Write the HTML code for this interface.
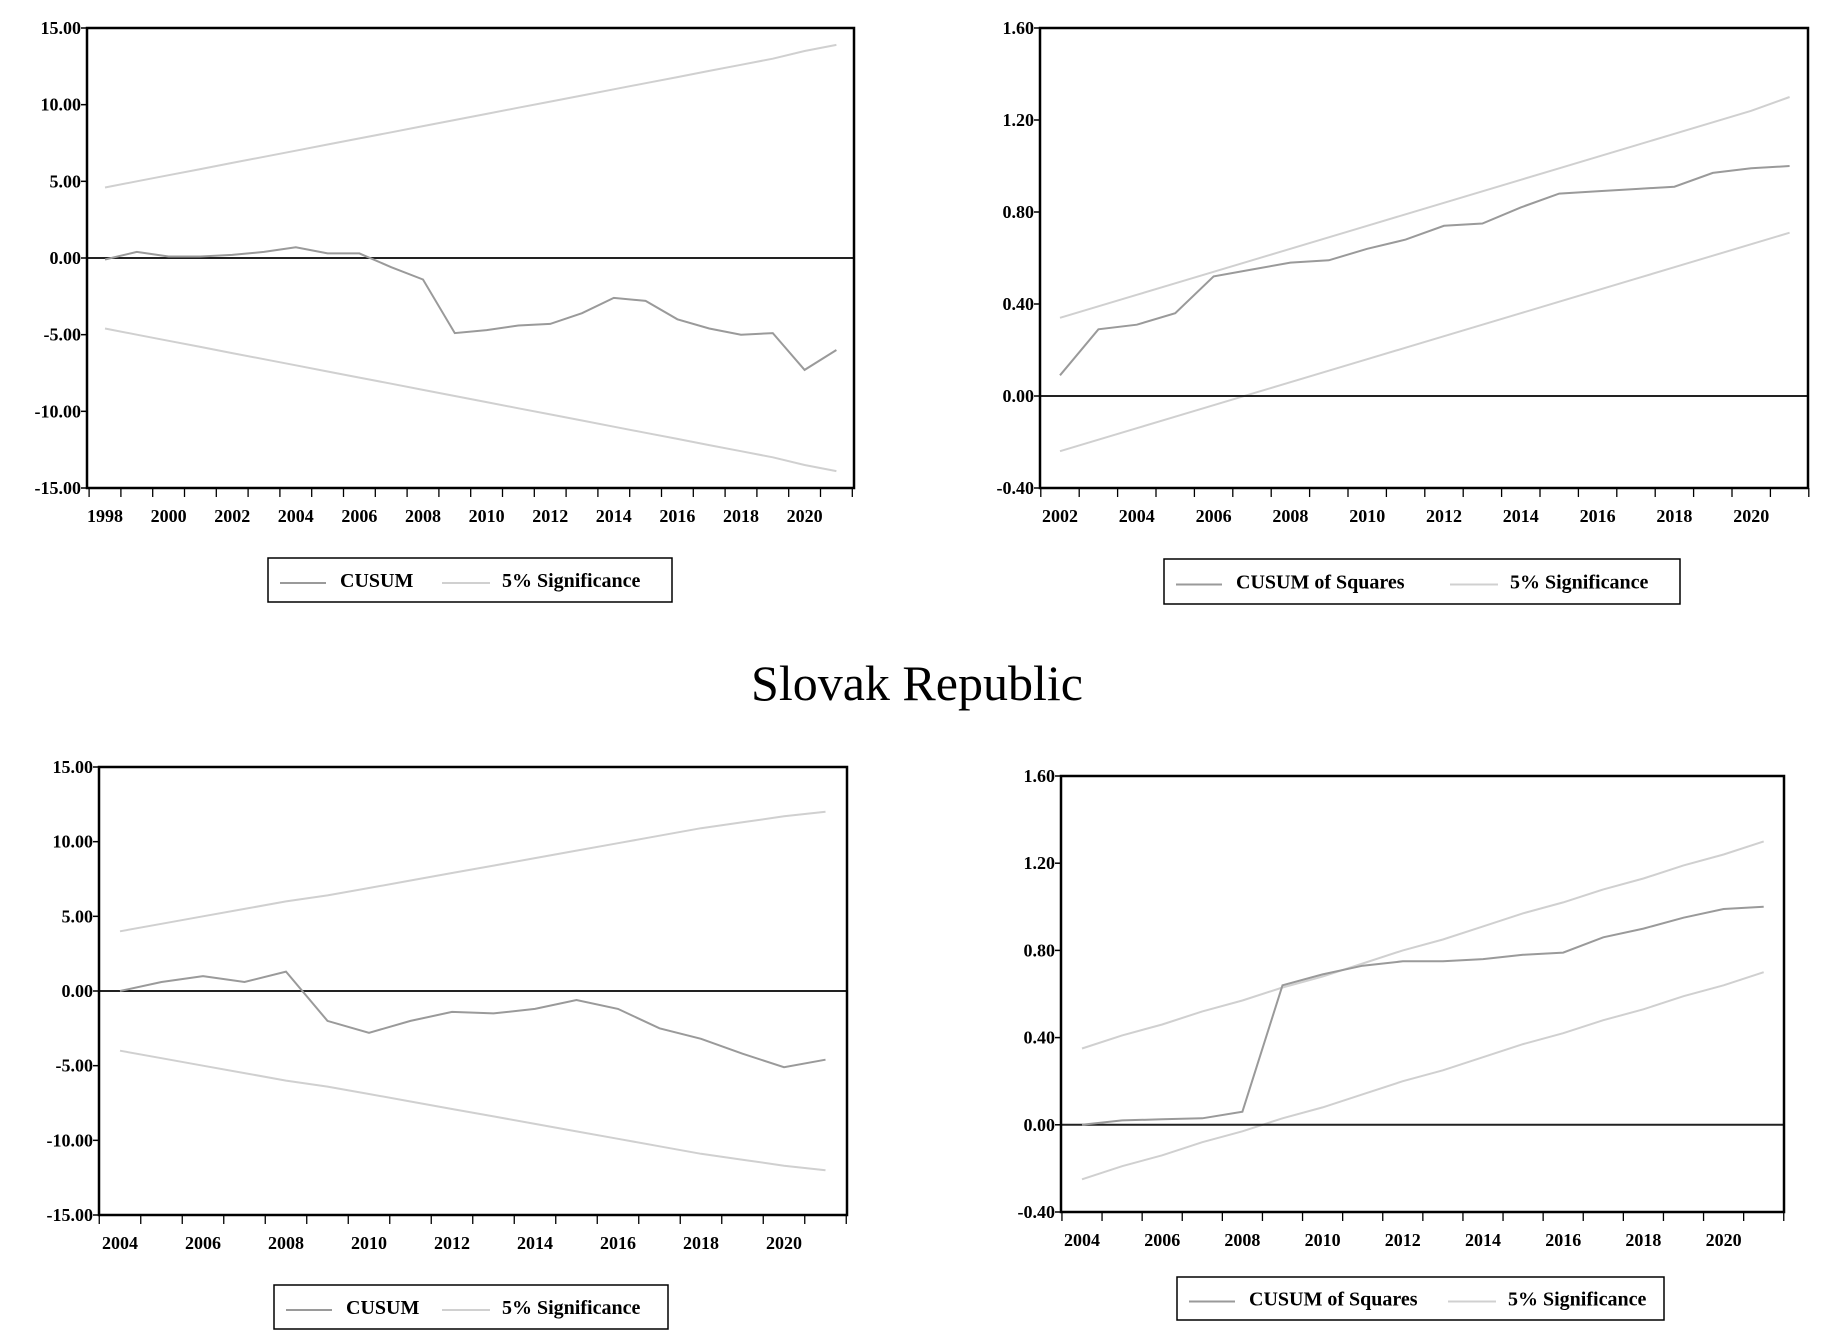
<!DOCTYPE html>
<html><head><meta charset="utf-8"><style>
html,body{margin:0;padding:0;background:#fff;}
svg{display:block;}
text{font-family:"Liberation Serif",serif;}
</style></head><body>
<svg id="s" width="1822" height="1344" xmlns="http://www.w3.org/2000/svg">
<text x="917" y="700" font-size="50" text-anchor="middle" fill="#000">Slovak Republic</text>
</svg>
<script>
// Chart 1: CUSUM (top-left)
const c1Years = [1998,1999,2000,2001,2002,2003,2004,2005,2006,2007,2008,2009,2010,2011,2012,2013,2014,2015,2016,2017,2018,2019,2020,2021];
const c1Cusum = [-0.1,0.4,0.1,0.1,0.2,0.4,0.7,0.3,0.3,-0.6,-1.4,-4.9,-4.7,-4.4,-4.3,-3.6,-2.6,-2.8,-4.0,-4.6,-5.0,-4.9,-7.3,-6.0];
const c1Upper = [4.6,5.0,5.4,5.8,6.2,6.6,7.0,7.4,7.8,8.2,8.6,9.0,9.4,9.8,10.2,10.6,11.0,11.4,11.8,12.2,12.6,13.0,13.5,13.9];
const c1Lower = [-4.6,-5.0,-5.4,-5.8,-6.2,-6.6,-7.0,-7.4,-7.8,-8.2,-8.6,-9.0,-9.4,-9.8,-10.2,-10.6,-11.0,-11.4,-11.8,-12.2,-12.6,-13.0,-13.5,-13.9];
const c1Ticks = ["15.00","10.00","5.00","0.00","-5.00","-10.00","-15.00"];
// Chart 2: CUSUM of Squares (top-right)
const c2Years = [2002,2003,2004,2005,2006,2007,2008,2009,2010,2011,2012,2013,2014,2015,2016,2017,2018,2019,2020,2021];
const c2Cusum = [0.09,0.29,0.31,0.36,0.52,0.55,0.58,0.59,0.64,0.68,0.74,0.75,0.82,0.88,0.89,0.90,0.91,0.97,0.99,1.00];
const c2Upper = [0.34,0.39,0.44,0.49,0.54,0.59,0.64,0.69,0.74,0.79,0.84,0.89,0.94,0.99,1.04,1.09,1.14,1.19,1.24,1.30];
const c2Lower = [-0.24,-0.19,-0.14,-0.09,-0.04,0.01,0.06,0.11,0.16,0.21,0.26,0.31,0.36,0.41,0.46,0.51,0.56,0.61,0.66,0.71];
const c2Ticks = ["1.60","1.20","0.80","0.40","0.00","-0.40"];
// Chart 3: CUSUM (bottom-left)
const c3Years = [2004,2005,2006,2007,2008,2009,2010,2011,2012,2013,2014,2015,2016,2017,2018,2019,2020,2021];
const c3Cusum = [0.0,0.6,1.0,0.6,1.3,-2.0,-2.8,-2.0,-1.4,-1.5,-1.2,-0.6,-1.2,-2.5,-3.2,-4.2,-5.1,-4.6];
const c3Upper = [4.0,4.5,5.0,5.5,6.0,6.4,6.9,7.4,7.9,8.4,8.9,9.4,9.9,10.4,10.9,11.3,11.7,12.0];
const c3Lower = [-4.0,-4.5,-5.0,-5.5,-6.0,-6.4,-6.9,-7.4,-7.9,-8.4,-8.9,-9.4,-9.9,-10.4,-10.9,-11.3,-11.7,-12.0];
const c3Ticks = ["15.00","10.00","5.00","0.00","-5.00","-10.00","-15.00"];
// Chart 4: CUSUM of Squares (bottom-right)
const c4Years = [2004,2005,2006,2007,2008,2009,2010,2011,2012,2013,2014,2015,2016,2017,2018,2019,2020,2021];
const c4Cusum = [0.0,0.02,0.025,0.03,0.06,0.64,0.69,0.73,0.75,0.75,0.76,0.78,0.79,0.86,0.90,0.95,0.99,1.00];
const c4Upper = [0.35,0.41,0.46,0.52,0.57,0.63,0.68,0.74,0.80,0.85,0.91,0.97,1.02,1.08,1.13,1.19,1.24,1.30];
const c4Lower = [-0.25,-0.19,-0.14,-0.08,-0.03,0.03,0.08,0.14,0.20,0.25,0.31,0.37,0.42,0.48,0.53,0.59,0.64,0.70];
const c4Ticks = ["1.60","1.20","0.80","0.40","0.00","-0.40"];

const NS = "http://www.w3.org/2000/svg";
const svg = document.getElementById('s');
function mk(tag, attrs, parent){
  const e = document.createElementNS(NS, tag);
  for (const k in attrs) e.setAttribute(k, attrs[k]);
  (parent||svg).appendChild(e);
  return e;
}
function chart(cfg){
  const g = mk('g', {});
  
  
  const x = yr => cfg.x0 + (yr - cfg.y0) * cfg.step;
  const y = v => cfg.top + (cfg.vmax - v) / (cfg.vmax - cfg.vmin) * (cfg.bottom - cfg.top);
  const ticks = cfg.ticks;
  ticks.forEach(t => {
    const v = parseFloat(t);
    const tk = mk('line', {x1:cfg.left-6, x2:cfg.left, y1:y(v), y2:y(v), stroke:'#000','stroke-width':1.5}, g);
    
    
    const lb = mk('text', {x:cfg.left-6, y:y(v)+6, 'font-size':18, 'font-weight':'bold', 'text-anchor':'end'}, g);
    lb.textContent = t;
    
    
  });
  const ys = cfg.years;
  for (let yr = ys[0]; yr <= ys[ys.length-1]+1; yr++){
    const xx = x(yr) - cfg.step/2;
    const tk = mk('line', {x1:xx, x2:xx, y1:cfg.bottom, y2:cfg.bottom+9, stroke:'#000','stroke-width':1.3}, g);
    
    
  }
  ys.forEach(yr => {
    if (yr % 2 !== 0) return;
    const lb = mk('text', {x:x(yr), y:cfg.bottom+34, 'font-size':18, 'font-weight':'bold', 'text-anchor':'middle'}, g);
    lb.textContent = yr;
    
    
  });
  const pts = arr => arr.map((v,i) => x(ys[i]).toFixed(1)+','+y(v).toFixed(1)).join(' ');
  const up = mk('polyline', {points:pts(cfg.upper), fill:'none', stroke:'#d0d0d0','stroke-width':2}, g);
  
  
  const lo = mk('polyline', {points:pts(cfg.lower), fill:'none', stroke:'#d0d0d0','stroke-width':2}, g);
  
  
  const z = mk('line', {x1:cfg.left, x2:cfg.right, y1:y(0), y2:y(0), stroke:'#222','stroke-width':2}, g);
  
  
  const cu = mk('polyline', {points:pts(cfg.cusum), fill:'none', stroke:'#9a9a9a','stroke-width':2}, g);
  
  
  const box = mk('rect', {x:cfg.left, y:cfg.top, width:cfg.right-cfg.left, height:cfg.bottom-cfg.top, fill:'none', stroke:'#000','stroke-width':2.5}, g);
  
  
  // legend
  const L = cfg.legend;
  const lg = mk('g', {}, g);
  
  
  mk('rect', {x:L.x, y:L.y, width:L.w, height:L.h, fill:'#fff', stroke:'#000','stroke-width':1.5}, lg);
  const cy = L.y + L.h/2;
  const s1 = mk('line', {x1:L.x+12, x2:L.x+58, y1:cy+3, y2:cy+3, stroke:'#9a9a9a','stroke-width':2}, lg);
  
  
  const t1 = mk('text', {x:L.x+72, y:cy+7, 'font-size':20, 'font-weight':'bold'}, lg);
  t1.textContent = cfg.label;
  
  
  const s2 = mk('line', {x1:L.s2, x2:L.s2+48, y1:cy+3, y2:cy+3, stroke:'#d0d0d0','stroke-width':2}, lg);
  
  
  const t2 = mk('text', {x:L.s2+60, y:cy+7, 'font-size':20, 'font-weight':'bold'}, lg);
  t2.textContent = '5% Significance';
  
  
}
chart({name:'cusum-chart-top', left:87, right:854, top:28, bottom:488, vmin:-15, vmax:15, x0:105, y0:1998, step:31.8,
  years:c1Years, cusum:c1Cusum, upper:c1Upper, lower:c1Lower, ticks:c1Ticks, label:'CUSUM',
  legend:{x:268, y:558, w:404, h:44, s2:442}});
chart({name:'cusumsq-chart-top', left:1040, right:1808, top:28, bottom:488, vmin:-0.4, vmax:1.6, x0:1060, y0:2002, step:38.4,
  years:c2Years, cusum:c2Cusum, upper:c2Upper, lower:c2Lower, ticks:c2Ticks, label:'CUSUM of Squares',
  legend:{x:1164, y:559, w:516, h:45, s2:1450}});
chart({name:'cusum-chart-bottom', left:99, right:847, top:767, bottom:1215, vmin:-15, vmax:15, x0:120, y0:2004, step:41.5,
  years:c3Years, cusum:c3Cusum, upper:c3Upper, lower:c3Lower, ticks:c3Ticks, label:'CUSUM',
  legend:{x:274, y:1285, w:394, h:44, s2:442}});
chart({name:'cusumsq-chart-bottom', left:1061, right:1784, top:776, bottom:1212, vmin:-0.4, vmax:1.6, x0:1082, y0:2004, step:40.1,
  years:c4Years, cusum:c4Cusum, upper:c4Upper, lower:c4Lower, ticks:c4Ticks, label:'CUSUM of Squares',
  legend:{x:1177, y:1277, w:487, h:43, s2:1448}});
</script>
</body></html>
